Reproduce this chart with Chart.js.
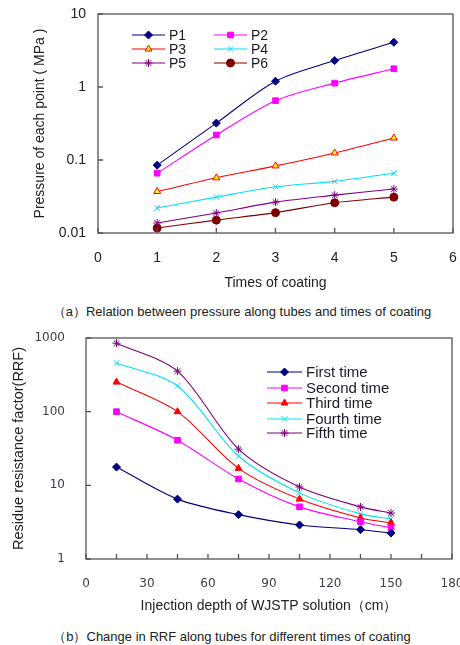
<!DOCTYPE html>
<html>
<head>
<meta charset="utf-8">
<script src="https://cdn.jsdelivr.net/npm/chart.js@4.4.0/dist/chart.umd.min.js"></script>
<style>
  body { margin: 0; background: #fff; width: 460px; height: 645px; position: relative; overflow: hidden; }
  .box { position: absolute; left: 0; width: 460px; height: 295px; }
  .cap { position: absolute; left: 0; width: 460px; text-align: center; font: 13px "Liberation Sans", Arial, sans-serif; color: #222; }
</style>
</head>
<body>
<div class="box" style="top:0"><canvas id="presion" width="460" height="295"></canvas></div>
<div class="cap" style="top:303px; padding-left:24px; box-sizing:border-box">（a）Relation between pressure along tubes and times of coating</div>
<div class="box" style="top:320px"><canvas id="rrf" width="460" height="295"></canvas></div>
<div class="cap" style="top:628px; padding-left:4px; box-sizing:border-box">（b）Change in RRF along tubes for different times of coating</div>
<script>
// datos grafico (a)
const vecesA = [1, 2, 3, 4, 5];
const p1 = [0.085, 0.32, 1.2, 2.3, 4.1];
const p2 = [0.066, 0.22, 0.65, 1.13, 1.78];
const p3 = [0.037, 0.057, 0.083, 0.125, 0.2];
const p4 = [0.022, 0.031, 0.043, 0.051, 0.066];
const p5 = [0.0137, 0.0188, 0.0265, 0.033, 0.04];
const p6 = [0.0117, 0.015, 0.019, 0.026, 0.031];
const nombresA = ["P1", "P2", "P3", "P4", "P5", "P6"];

// datos grafico (b)
const profundidad = [15, 45, 75, 105, 135, 150];
const primera = [17.7, 6.5, 4.0, 2.9, 2.5, 2.25];
const segunda = [100, 41, 12.2, 5.1, 3.2, 2.65];
const tercera = [252, 100, 17, 6.5, 3.6, 3.1];
const cuarta = [457, 223, 25, 7.9, 4.1, 3.5];
const quinta = [850, 355, 31, 9.5, 5.1, 4.2];
const nombresB = ["First time", "Second time", "Third time", "Fourth time", "Fifth time"];

function puntos(xs, ys) {
    return xs.map((x, i) => ({ x: x, y: ys[i] }));
}

function serie(label, xs, ys, color, estilo, relleno) {
    return {
        label: label,
        data: puntos(xs, ys),
        borderColor: color,
        backgroundColor: relleno || color,
        pointBorderColor: color,
        pointBackgroundColor: relleno || color,
        pointStyle: estilo,
        pointRadius: 4,
        pointBorderWidth: 1,
        borderWidth: 1.1,
        tension: 0.3
    };
}

function soloDecadas(s) {
    s.ticks = s.ticks.filter(t => Math.abs(Math.log10(t.value) - Math.round(Math.log10(t.value))) < 1e-6);
}

// quita el relleno que mete Chart.js por las etiquetas de los extremos
function sinRelleno(s) {
    s.paddingTop = 0;
    s.paddingBottom = 0;
    s.paddingLeft = 0;
    s.paddingRight = 0;
}

// marco y marcas hacia dentro
const marco = {
    id: "marco",
    afterDraw(chart) {
        const { ctx, chartArea: a } = chart;
        const sx = chart.scales.x, sy = chart.scales.y;
        ctx.save();
        ctx.strokeStyle = "#555";
        ctx.lineWidth = 1.3;
        ctx.strokeRect(a.left, a.top, a.right - a.left, a.bottom - a.top);
        ctx.beginPath();
        sx.ticks.forEach(t => {
            const x = sx.getPixelForValue(t.value);
            ctx.moveTo(x, a.bottom);
            ctx.lineTo(x, a.bottom - 5);
        });
        sy.ticks.forEach(t => {
            const y = sy.getPixelForValue(t.value);
            ctx.moveTo(a.left, y);
            ctx.lineTo(a.left + 5, y);
        });
        ctx.stroke();
        ctx.restore();
    }
};

// leyenda a mano
const leyenda = {
    id: "leyenda",
    afterDraw(chart, args, opts) {
        const ctx = chart.ctx;
        ctx.save();
        ctx.font = opts.font;
        ctx.textBaseline = "middle";
        chart.data.datasets.forEach((ds, i) => {
            const pos = opts.pos[i];
            const x0 = pos[0], y = pos[1];
            ctx.strokeStyle = ds.borderColor;
            ctx.lineWidth = 1.1;
            ctx.beginPath();
            ctx.moveTo(x0, y);
            ctx.lineTo(x0 + opts.largo, y);
            ctx.stroke();
            ctx.fillStyle = ds.pointBackgroundColor;
            ctx.strokeStyle = ds.pointBorderColor;
            ctx.lineWidth = 1;
            Chart.helpers.drawPoint(ctx, { pointStyle: ds.pointStyle, radius: 4, rotation: 0, borderWidth: 1 }, x0 + opts.largo / 2, y);
            ctx.fillStyle = "#1a1a2a";
            ctx.fillText(ds.label, x0 + opts.largo + 4, y + 1);
        });
        ctx.restore();
    }
};

function cargaGraficoPresion() {
    const config = {
        type: "line",
        data: {
            datasets: [
                serie(nombresA[0], vecesA, p1, "#000080", "rectRot"),
                serie(nombresA[1], vecesA, p2, "#ff00ff", "rect"),
                serie(nombresA[2], vecesA, p3, "#ff0000", "triangle", "#ffff00"),
                serie(nombresA[3], vecesA, p4, "#00e0ff", "crossRot"),
                serie(nombresA[4], vecesA, p5, "#800080", "star"),
                serie(nombresA[5], vecesA, p6, "#800000", "circle")
            ]
        },
        options: {
            responsive: false,
            animation: false,
            layout: { padding: { top: 14, right: 7, left: 0, bottom: 0 } },
            scales: {
                x: {
                    type: "linear",
                    min: 0,
                    max: 6,
                    grid: { display: false, drawTicks: false },
                    border: { display: false },
                    ticks: { stepSize: 1, padding: 17, color: "#222", font: { family: "Liberation Sans", size: 14 } },
                    title: { display: true, text: "Times of coating", color: "#222", padding: { top: 3, bottom: 3 }, font: { family: "Liberation Sans", size: 14 } },
                    afterFit: s => { s.height = 62; sinRelleno(s); }
                },
                y: {
                    type: "logarithmic",
                    min: 0.01,
                    max: 10,
                    grid: { display: false, drawTicks: false },
                    border: { display: false },
                    afterBuildTicks: soloDecadas,
                    ticks: {
                        padding: 12, color: "#222", font: { family: "Liberation Sans", size: 14 },
                        callback: v => String(v)
                    },
                    title: { display: true, text: "Pressure of each point ( MPa )", color: "#222", padding: { top: 32, bottom: 32 }, font: { family: "Liberation Sans", size: 14 } },
                    afterFit: s => { s.width = 98; sinRelleno(s); }
                }
            },
            plugins: {
                legend: { display: false },
                tooltip: { enabled: false },
                leyenda: {
                    font: "14px 'Liberation Sans'",
                    largo: 33,
                    pos: [[132, 35], [214, 35], [132, 49], [214, 49], [132, 63], [214, 63]]
                }
            }
        },
        plugins: [marco, leyenda]
    };
    new Chart(document.getElementById("presion").getContext("2d"), config);
}

function cargaGraficoRRF() {
    const config = {
        type: "line",
        data: {
            datasets: [
                serie(nombresB[0], profundidad, primera, "#000080", "rectRot"),
                serie(nombresB[1], profundidad, segunda, "#ff00ff", "rect"),
                serie(nombresB[2], profundidad, tercera, "#ff0000", "triangle"),
                serie(nombresB[3], profundidad, cuarta, "#00e0ff", "crossRot"),
                serie(nombresB[4], profundidad, quinta, "#800080", "star")
            ]
        },
        options: {
            responsive: false,
            animation: false,
            layout: { padding: { top: 18, right: 8, left: 0, bottom: 0 } },
            scales: {
                x: {
                    type: "linear",
                    min: 0,
                    max: 180,
                    grid: { display: false, drawTicks: false },
                    border: { display: false },
                    ticks: {
                        stepSize: 15, autoSkip: false, maxRotation: 0, padding: 18, color: "#3c3c4c",
                        font: { family: "DejaVu Sans", size: 12 },
                        callback: v => (v % 30 === 0 ? String(v) : "")
                    },
                    title: { display: true, text: "Injection depth of WJSTP solution（cm）", color: "#222", padding: { top: 0, bottom: 0 }, font: { family: "Liberation Sans", size: 14 } },
                    afterFit: s => { s.height = 56; sinRelleno(s); }
                },
                y: {
                    type: "logarithmic",
                    min: 1,
                    max: 1000,
                    grid: { display: false, drawTicks: false },
                    border: { display: false },
                    afterBuildTicks: soloDecadas,
                    ticks: {
                        padding: 21, color: "#3c3c4c", font: { family: "DejaVu Sans", size: 12 },
                        callback: v => String(v)
                    },
                    title: { display: true, text: "Residue resistance factor(RRF)", color: "#222", padding: { top: 10, bottom: 10 }, font: { family: "Liberation Sans", size: 14.5 } },
                    afterFit: s => { s.width = 86; sinRelleno(s); }
                }
            },
            plugins: {
                legend: { display: false },
                tooltip: { enabled: false },
                leyenda: {
                    font: "15px 'Liberation Sans'",
                    largo: 35,
                    pos: [[267, 52], [267, 68], [267, 83], [267, 99], [267, 113]]
                }
            }
        },
        plugins: [marco, leyenda]
    };
    new Chart(document.getElementById("rrf").getContext("2d"), config);
}

window.onload = function () {
    cargaGraficoPresion();
    cargaGraficoRRF();
};
</script>
</body>
</html>
